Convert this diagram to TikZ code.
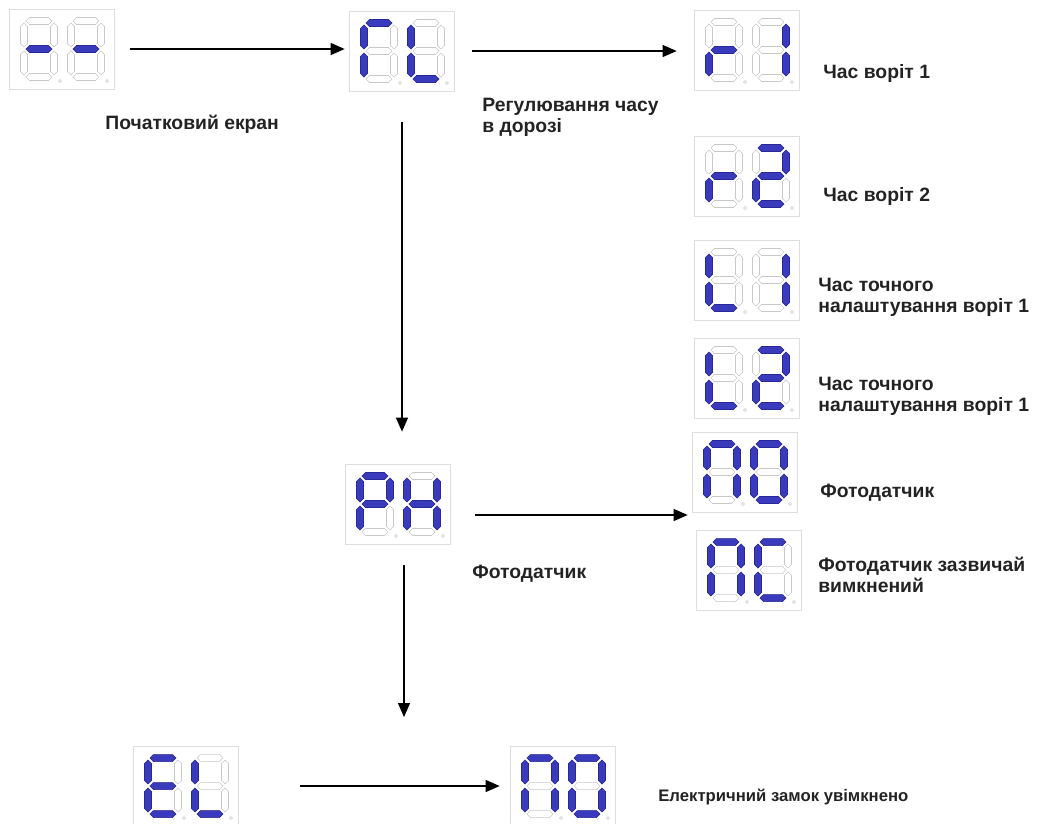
\documentclass[tikz,border=0pt]{standalone}
\usepackage{fontspec}
\setmainfont{Liberation Sans}
\usetikzlibrary{arrows.meta,calc}

\definecolor{segblue}{RGB}{58,58,188}
\definecolor{segedge}{RGB}{40,40,150}
\definecolor{seggray}{RGB}{200,200,200}
\definecolor{boxgray}{RGB}{222,222,222}
\definecolor{txtgray}{RGB}{35,35,35}

\tikzset{
  hseg/.style={insert path={(2,#1) -- ++(3.5,-3.5) -- ++(19,0) -- ++(3.5,3.5) -- ++(-3.5,3.5) -- ++(-19,0) -- cycle}},
  vseg/.style args={#1/#2}{insert path={(#1,#2) -- ++(3.5,3.5) -- ++(0,17) -- ++(-3.5,3.5) -- ++(-3.5,-3.5) -- ++(0,-17) -- cycle}},
  seg a/.style={hseg=0},
  seg g/.style={hseg=28},
  seg d/.style={hseg=56},
  seg f/.style={vseg=0/2},
  seg e/.style={vseg=0/30},
  seg b/.style={vseg=30/2},
  seg c/.style={vseg=30/30},
  segoff/.style={draw=seggray, line width=0.3pt},
  segon/.style={fill=segblue, draw=segedge, line width=0.3pt},
  dispbox/.style={draw=boxgray, line width=0.4pt, minimum width=21mm, minimum height=16mm, inner sep=0pt},
  lbl/.style={font=\fontsize{11}{12}\selectfont\bfseries, text=txtgray, align=left, inner sep=0pt, anchor=west},
  flow/.style={line width=0.7pt, -{Triangle[length=2.8mm,width=2.4mm]}}
}

% one digit: origin, lit segments
\newcommand{\segdigit}[2]{%
  \begin{scope}[shift={#1}]
    \foreach \s in {a,b,c,d,e,f,g} {\path[segoff, seg \s];}
    \foreach \s in {#2} {\path[segon, seg \s];}
    \draw[segoff] (36,60) circle (1.5);
  \end{scope}}

% two digit display: name, position, left digit, right digit
\newcommand{\segdisplay}[4]{%
  \node[dispbox] (#1) at #2 {};
  \segdigit{($(#1.center)+(-38,-28)$)}{#3}
  \segdigit{($(#1.center)+(9,-28)$)}{#4}}

\begin{document}
\begin{tikzpicture}[x=0.2mm, y=-0.2mm]
  \useasboundingbox (0,0) rectangle (1043,823);

  % displays
  \segdisplay{start}{(62,49)}{g}{g}
  \segdisplay{travel}{(402,51)}{a,f,e}{f,e,d}
  \segdisplay{gate1}{(747,50)}{g,e}{b,c}
  \segdisplay{gate2}{(747,176)}{g,e}{a,b,g,e,d}
  \segdisplay{fine1}{(747,280)}{f,e,d}{b,c}
  \segdisplay{fine2}{(747,378)}{f,e,d}{a,b,g,e,d}
  \segdisplay{photono}{(745,472)}{a,f,e,b,c}{a,b,c,d,e,f}
  \segdisplay{photonc}{(749,570)}{a,f,e,b,c}{a,f,e,d}
  \segdisplay{photo}{(398,504)}{a,b,f,g,e}{f,b,g,e,c}
  \segdisplay{lock}{(186,786)}{a,f,g,e,d}{f,e,d}
  \segdisplay{lockon}{(563,786)}{a,f,e,b,c}{a,b,c,d,e,f}

  % labels
  \node[lbl] (starttxt) at (105,124) {Початковий екран};
  \node[lbl] (traveltxt) at (482,117) {Регулювання часу\\в дорозі};
  \node[lbl] (gate1txt) at (823,73) {Час воріт 1};
  \node[lbl] (gate2txt) at (823,196) {Час воріт 2};
  \node[lbl] (fine1txt) at (818,297) {Час точного\\налаштування воріт 1};
  \node[lbl] (fine2txt) at (818,396) {Час точного\\налаштування воріт 1};
  \node[lbl] (photonotxt) at (820,493) {Фотодатчик};
  \node[lbl] (photonctxt) at (818,575) {Фотодатчик зазвичай\\вимкнений};
  \node[lbl] (phototxt) at (472,574) {Фотодатчик};
  \node[lbl, font=\fontsize{9.5}{11}\selectfont\bfseries] (lockontxt) at (658,797) {Електричний замок увімкнено};

  % arrows
  \coordinate (lockdrop) at (404,717);
  \draw[flow, shorten <=3.1mm, shorten >=0.9mm] (start.east) -- (start.east -| travel.west);
  \draw[flow, shorten <=3.5mm, shorten >=3.5mm] (travel.east) -- (travel.east -| gate1.west);
  \draw[flow, shorten <=6.2mm, shorten >=6.4mm] (travel.south) -- (travel.south |- photo.north);
  \draw[flow, shorten <=4.9mm, shorten >=0.9mm] ($(photo.east)+(0,11)$) -- ($(photono.west |- photo.east)+(0,11)$);
  \draw[flow, shorten <=4.2mm] (photo.south -| lockdrop) -- (lockdrop);
  \draw[flow, shorten <=12.3mm, shorten >=2.1mm] (lock.east) -- (lock.east -| lockon.west);
\end{tikzpicture}
\end{document}
